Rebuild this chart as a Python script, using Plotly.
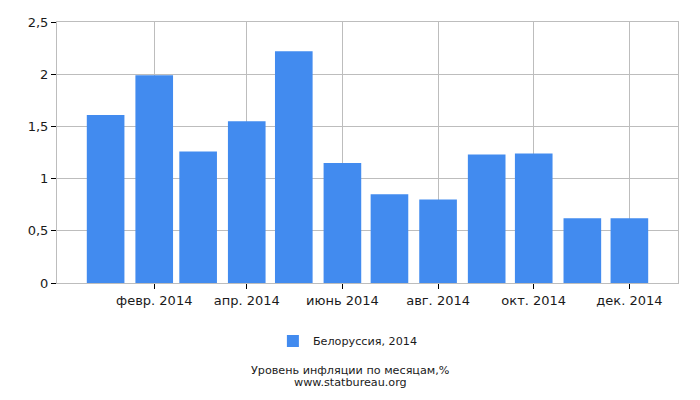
import plotly.graph_objects as go

# monthly inflation, Belarus 2014 (%)
months = [
    "2014-01-01", "2014-02-01", "2014-03-01", "2014-04-01",
    "2014-05-01", "2014-06-01", "2014-07-01", "2014-08-01",
    "2014-09-01", "2014-10-01", "2014-11-01", "2014-12-01",
]
inflation = [1.61, 1.99, 1.26, 1.55, 2.22, 1.15, 0.85, 0.80, 1.23, 1.24, 0.62, 0.62]

tick_dates = ["2014-02-01", "2014-04-01", "2014-06-01", "2014-08-01", "2014-10-01", "2014-12-01"]
tick_labels = ["февр. 2014", "апр. 2014", "июнь 2014", "авг. 2014", "окт. 2014", "дек. 2014"]

series_name = "Белоруссия, 2014"
chart_title = "Уровень инфляции по месяцам,%"
source = "www.statbureau.org"

BAR_COLOR = "#428bef"
GRID_COLOR = "#bdbdbd"
FONT = dict(family="DejaVu Sans", size=13, color="#1a1a1a")
SMALL_FONT = dict(FONT, size=11.2)
DAY_MS = 86400000

# plot area in pixels: top 22, bottom 283 -> paper y for a pixel row
def paper_y(px):
    return (283 - px) / 261


fig = go.Figure()
fig.add_trace(
    go.Bar(
        x=months,
        y=inflation,
        name=series_name,
        marker=dict(color=BAR_COLOR, line=dict(width=0)),
        width=24 * DAY_MS,
        showlegend=True,
    )
)

fig.update_xaxes(
    type="date",
    range=["2013-12-01", "2015-01-01"],
    tickvals=tick_dates,
    ticktext=tick_labels,
    showgrid=True,
    gridcolor=GRID_COLOR,
    gridwidth=1,
    showline=True,
    linecolor=GRID_COLOR,
    linewidth=1,
    mirror=True,
    ticks="outside",
    ticklen=5,
    tickcolor="black",
    tickfont=FONT,
    automargin=False,
)
fig.update_yaxes(
    range=[0, 2.5],
    tickvals=[0, 0.5, 1, 1.5, 2, 2.5],
    showgrid=True,
    gridcolor=GRID_COLOR,
    gridwidth=1,
    showline=True,
    linecolor=GRID_COLOR,
    linewidth=1,
    mirror=True,
    ticks="outside",
    ticklen=5,
    tickcolor="black",
    tickfont=FONT,
    zeroline=False,
    automargin=False,
)

fig.update_layout(
    width=700,
    height=400,
    separators=", ",
    plot_bgcolor="white",
    paper_bgcolor="white",
    font=FONT,
    margin=dict(l=57, r=22, t=22, b=117, autoexpand=False),
    legend=dict(
        orientation="h",
        xref="container",
        yref="container",
        x=0.497,
        xanchor="center",
        y=1 - 341 / 400,
        yanchor="middle",
        font=SMALL_FONT,
    ),
    annotations=[
        dict(text=chart_title, x=0.472, y=paper_y(370.5), xref="paper", yref="paper",
             showarrow=False, xanchor="center", yanchor="middle", font=SMALL_FONT),
        dict(text=source, x=0.472, y=paper_y(382.5), xref="paper", yref="paper",
             showarrow=False, xanchor="center", yanchor="middle", font=SMALL_FONT),
    ],
)

# drop the browser's default body margin so the figure sits at the page corner
fig.write_html(
    "out.html",
    config={"displayModeBar": False},
    post_script="document.body.style.margin='0px';",
)
